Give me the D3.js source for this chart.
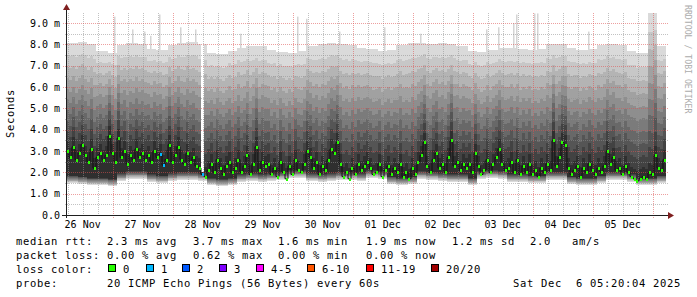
<!DOCTYPE html>
<html>
<head>
<meta charset="utf-8">
<script src="https://cdn.jsdelivr.net/npm/d3@7"></script>
<style>
  body { margin: 0; background: #fff; }
  text { font-family: "DejaVu Sans Mono", monospace; white-space: pre; }
</style>
</head>
<body>
<svg id="chart" width="697" height="297"></svg>
<script>
// ---- data ----
const endTime = new Date(Date.UTC(2025, 11, 6, 5, 20, 4));
const startTime = new Date(+endTime - 10 * 864e5);
const medStep = 72;   // minutes per median column
const envStep = 240;  // minutes per envelope column

// median rtt (ms), one value per 72 min
const median = [
  3.0, 2.7, 3.2, 2.6, 2.9, 3.3, 2.8, 2.5, 3.1, 2.2, 2.7, 2.9,
  2.6, 2.8, 3.7, 2.9, 2.5, 3.6, 2.7, 3.0, 2.4, 2.8, 2.6, 3.1,
  2.7, 2.9, 2.6, 2.8, 2.5, 3.0, 2.7, 2.86, 2.34, 2.6,
  3.3, 2.5, 2.8, 3.2, 2.6, 2.4, 2.9, 2.5, 2.7, 2.3, 2.2,
  1.9,
  1.8, 2.1, 2.4, 2.0, 2.6, 2.2, 1.9, 2.3, 2.5, 2.0,
  2.2, 2.6, 2.0, 2.3, 2.8, 1.9, 2.4, 3.2, 2.1, 2.5, 2.3,
  2.4, 1.9, 2.2, 1.8, 2.5, 2.0, 1.7, 2.3, 1.9, 2.6, 2.1,
  2.0, 2.4, 3.0, 2.7, 2.2, 2.5, 1.9, 2.3, 2.1, 2.6, 3.1,
  2.9, 3.4, 2.4, 1.8, 2.0, 1.7, 2.2, 1.9, 2.4, 2.1, 2.3,
  2.5, 2.2, 1.9, 2.0, 2.4, 1.8, 2.1, 2.3, 1.9, 2.2, 2.0,
  2.4, 1.8, 2.0, 1.7, 2.2, 1.9, 2.5, 2.8, 3.4, 2.3, 2.0,
  2.6, 2.9, 2.2, 2.4, 2.0, 2.7, 3.5, 2.3, 2.5, 2.1, 2.4,
  2.2, 2.4, 2.0, 2.9, 2.3, 1.9, 2.1, 2.6, 2.0, 2.4, 2.7,
  3.1, 2.4, 2.1, 2.2, 2.5, 2.0, 2.6, 1.9, 2.3, 2.0, 2.4,
  1.9, 2.1, 1.8, 2.2, 2.0, 2.4, 2.1, 3.5, 2.3, 2.7, 3.4,
  3.3, 2.2, 1.9, 2.1, 2.3, 1.8, 2.2, 2.0, 2.4, 2.1, 1.9,
  2.2, 2.0, 2.3, 3.0, 2.4, 2.7, 2.1, 2.2, 1.9, 2.3, 2.0,
  1.8, 1.7, 1.6, 1.7, 1.8, 1.7, 2.0, 1.9, 2.8, 2.2, 2.1, 2.6
];
// median columns that lost 1 of 20 pings
const lossOneCols = [31, 32, 45];
// median columns with no smoke above the median
const gapCols = [45];

// smoke envelope, one value per 4 h
const smokeHi = [
  8.05, 8.1, 8.0, 7.7, 7.6, 7.95, 8.05, 8.0, 7.8, 7.75,
  7.95, 8.05, 8.1, 8.0, 7.6, 7.55, 7.7, 7.85, 7.9, 7.9,
  7.75, 7.65, 7.6, 7.7, 7.9, 8.0, 8.05, 8.0, 7.95, 7.85,
  7.8, 7.7, 7.75, 7.95, 8.05, 8.05, 8.0, 8.05, 8.0, 7.9,
  7.7, 7.65, 7.75, 7.85, 7.85, 7.8, 7.75, 7.8, 8.0, 8.0,
  7.85, 7.75, 7.8, 7.95, 8.0, 7.95, 7.7, 7.6, 9.45, 7.9
];
const smokeLo = [
  1.5, 1.45, 1.4, 1.4, 1.35, 1.6, 1.7, 1.7, 1.55, 1.5,
  1.6, 1.65, 1.65, 1.6, 1.4, 1.35, 1.4, 1.55, 1.6, 1.55,
  1.6, 1.65, 1.75, 1.75, 1.6, 1.55, 1.6, 1.65, 1.65, 1.6,
  1.75, 1.7, 1.45, 1.4, 1.45, 1.7, 1.65, 1.6, 1.55, 1.55,
  1.4, 1.7, 1.75, 1.7, 1.55, 1.55, 1.5, 1.5, 1.65, 1.65,
  1.45, 1.4, 1.4, 1.5, 1.65, 1.65, 1.55, 1.4, 1.4, 1.5
];
// single high pings: [median column, ms]
const spikes = [
  [16, 9.3], [22, 8.7], [26, 8.6], [28, 8.4], [31, 9.4], [38, 8.8], [43, 8.7],
  [58, 8.5], [77, 9.3], [80, 9.2], [91, 8.6], [106, 8.8], [118, 8.5],
  [140, 8.7], [144, 8.8], [149, 9.0], [150, 9.4], [156, 9.45], [157, 9.45], [174, 8.6]
];

const yLabels = [0, 1, 2, 3, 4, 5, 6, 7, 8, 9];
const rttItems = ["2.3 ms avg", "3.7 ms max", "1.6 ms min", "1.9 ms now", "1.2 ms sd", "2.0   am/s"];
const lossItems = ["0.00 % avg", "0.62 % max", "0.00 % min", "0.00 % now"];
const lossLabels = ["0", "1", "2", "3", "4-5", "6-10", "11-19", "20/20"];
const lossColors = ["#26ff00", "#00b8ff", "#0059ff", "#7e00ff", "#ff00ff", "#ff5500", "#ff0000", "#a10000"];
const probeText = "20 ICMP Echo Pings (56 Bytes) every 60s";
const stampText = "Sat Dec  6 05:20:04 2025";

// ---- chart ----
const svg = d3.select("#chart");
const pLeft = 66, pRight = 666, pTop = 13, pBottom = 215;

const x = d3.scaleUtc().domain([startTime, endTime]).range([pLeft, pRight]);
const y = d3.scaleLinear().domain([0, 9.47]).range([pBottom, pTop]);
const colTime = j => new Date(+startTime + j * medStep * 6e4);

// smoke: 10 layers from outer (light) to inner (dark)
const greys = d3.range(10).map(i => d3.rgb(218 - i * 19, 218 - i * 19, 218 - i * 19).formatHex());
const fringe = 0.35;
const smoke = [];
median.forEach((m, j) => {
  const k = Math.floor(j * medStep / envStep);
  const lo = smokeLo[k];
  const core = Math.max(m + 0.45, lo + fringe + 0.2);
  const hi = gapCols.includes(j) ? m + 0.1 : smokeHi[k];
  for (let i = 0; i < 10; i++) {
    smoke.push({
      j, i,
      bot: lo + fringe * i / 9,
      top: Math.min(hi, hi - (hi - core) * Math.pow(i / 9, 0.95))
    });
  }
});

const gSmoke = svg.append("g");
gSmoke.selectAll("rect.spike")
  .data(spikes)
  .join("rect")
    .attr("class", "spike")
    .attr("x", d => x(colTime(d[0])))
    .attr("width", 1.5)
    .attr("y", d => y(d[1]))
    .attr("height", d => y(7.5) - y(d[1]))
    .attr("fill", "#d4d4d4");

gSmoke.selectAll("rect.smoke")
  .data(smoke)
  .join("rect")
    .attr("class", "smoke")
    .attr("x", d => x(colTime(d.j)))
    .attr("width", d => x(colTime(d.j + 1)) - x(colTime(d.j)))
    .attr("y", d => y(d.top))
    .attr("height", d => Math.max(0, y(d.bot) - y(d.top)))
    .attr("fill", d => greys[d.i])
    .attr("shape-rendering", "crispEdges");

// grid
const minorX = d3.utcHour.every(6).range(startTime, endTime).filter(t => t.getUTCHours() !== 0);
const majorX = d3.utcDay.range(startTime, endTime);
const minorY = d3.range(0.5, 9.5, 1);
const grid = svg.append("g").attr("shape-rendering", "crispEdges");
grid.selectAll("line.mx").data(minorX).join("line")
  .attr("x1", d => Math.round(x(d)) + 0.5).attr("x2", d => Math.round(x(d)) + 0.5)
  .attr("y1", pTop).attr("y2", pBottom + 1)
  .attr("stroke", "rgba(143,143,143,0.55)").attr("stroke-dasharray", "1,1");
grid.selectAll("line.my").data(minorY).join("line")
  .attr("y1", d => Math.round(y(d)) + 0.5).attr("y2", d => Math.round(y(d)) + 0.5)
  .attr("x1", pLeft - 1).attr("x2", pRight + 2)
  .attr("stroke", "rgba(143,143,143,0.55)").attr("stroke-dasharray", "1,1");
grid.selectAll("line.Mx").data(majorX).join("line")
  .attr("x1", d => Math.round(x(d)) + 0.5).attr("x2", d => Math.round(x(d)) + 0.5)
  .attr("y1", pTop).attr("y2", pBottom + 3)
  .attr("stroke", "rgba(222,80,80,0.55)").attr("stroke-dasharray", "1,1");
grid.selectAll("line.My").data(yLabels.slice(1)).join("line")
  .attr("y1", d => Math.round(y(d)) + 0.5).attr("y2", d => Math.round(y(d)) + 0.5)
  .attr("x1", pLeft - 3).attr("x2", pRight + 2)
  .attr("stroke", "rgba(222,80,80,0.55)").attr("stroke-dasharray", "1,1");

// median: black steps, dots coloured by loss
const cx = j => x(colTime(j)) + 1.5;
svg.append("path")
  .datum(median)
  .attr("fill", "none")
  .attr("stroke", "#111")
  .attr("stroke-width", 1)
  .attr("d", d3.line().x((d, j) => cx(j)).y(d => y(d)).curve(d3.curveStep));
svg.append("g").selectAll("rect")
  .data(median)
  .join("rect")
    .attr("x", (d, j) => Math.round(cx(j)) - 1)
    .attr("y", d => Math.round(y(d)) - 1)
    .attr("width", 2)
    .attr("height", 3)
    .attr("fill", (d, j) => lossOneCols.includes(j) ? lossColors[1] : lossColors[0]);

// axes
const axes = svg.append("g").attr("shape-rendering", "crispEdges");
axes.append("line").attr("x1", pLeft - 4).attr("x2", pRight + 4)
  .attr("y1", pBottom + 0.5).attr("y2", pBottom + 0.5).attr("stroke", "#1f1f1f");
axes.append("line").attr("x1", pLeft + 0.5).attr("x2", pLeft + 0.5)
  .attr("y1", pBottom + 3).attr("y2", pTop - 4).attr("stroke", "#1f1f1f");
svg.append("path").attr("fill", "#7f1f1f")
  .attr("d", `M${pRight + 2},${pBottom - 3}L${pRight + 8},${pBottom + 0.5}L${pRight + 2},${pBottom + 4}Z`);
svg.append("path").attr("fill", "#7f1f1f")
  .attr("d", `M${pLeft - 3},${pTop - 3}L${pLeft + 0.5},${pTop - 9}L${pLeft + 4},${pTop - 3}Z`);

// y labels
svg.append("g").selectAll("text")
  .data(yLabels)
  .join("text")
    .attr("x", 60)
    .attr("y", d => y(d) + 3.5)
    .attr("text-anchor", "end")
    .attr("font-size", 10)
    .text(d => d === 0 ? "0.0" : d.toFixed(1) + " m");

// x labels at noon
const noons = d3.utcDay.range(d3.utcDay.floor(startTime), endTime)
  .map(d => d3.utcHour.offset(d, 12))
  .filter(d => d > startTime && d < endTime);
svg.append("g").selectAll("text")
  .data(noons)
  .join("text")
    .attr("x", d => x(d))
    .attr("y", 228)
    .attr("text-anchor", "middle")
    .attr("font-size", 10)
    .text(d3.utcFormat("%d %b"));

// titles
svg.append("text")
  .attr("transform", "translate(14,113.5) rotate(-90)")
  .attr("text-anchor", "middle")
  .attr("font-size", 10.5)
  .attr("letter-spacing", 0.68)
  .text("Seconds");
svg.append("text")
  .attr("transform", "translate(685,5) rotate(90)")
  .attr("font-size", 8.2)
  .attr("fill", "#acacac")
  .text("RRDTOOL / TOBI OETIKER");

// legend
const legend = svg.append("g").attr("font-size", 10.5).attr("letter-spacing", 0.68);
const row = (label, yy) => legend.append("text").attr("x", 16).attr("y", yy).text(label);
row("median rtt:", 245);
row("packet loss:", 259);
row("loss color:", 273);
row("probe:", 287);
const statX = [107, 193, 278, 366, 452, 530];
legend.selectAll("text.rtt").data(rttItems).join("text")
  .attr("class", "rtt")
  .attr("x", (d, i) => statX[i])
  .attr("y", 245).text(d => d);
legend.selectAll("text.loss").data(lossItems).join("text")
  .attr("class", "loss")
  .attr("x", (d, i) => statX[i])
  .attr("y", 259).text(d => d);
const boxX = [108, 146, 182, 219, 256, 307, 366, 431];
legend.selectAll("rect").data(lossColors).join("rect")
  .attr("x", (d, i) => boxX[i] + 0.5).attr("y", 264.5)
  .attr("width", 7).attr("height", 7)
  .attr("fill", d => d).attr("stroke", "#000");
legend.selectAll("text.lc").data(lossLabels).join("text")
  .attr("class", "lc")
  .attr("x", (d, i) => boxX[i] + 15)
  .attr("y", 273).text(d => d);
legend.append("text").attr("x", 107).attr("y", 287).text(probeText);
legend.append("text").attr("x", 513).attr("y", 287).text(stampText);
</script>
</body>
</html>
